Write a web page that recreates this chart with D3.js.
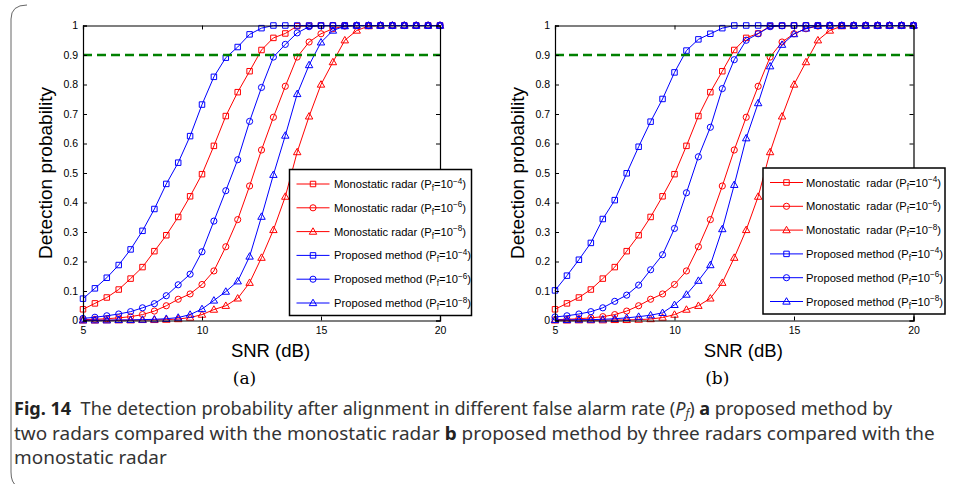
<!DOCTYPE html>
<html>
<head>
<meta charset="utf-8">
<script src="https://cdn.jsdelivr.net/npm/d3@7/dist/d3.min.js"></script>
<style>
  html, body { margin: 0; padding: 0; background: #fff; }
  svg { display: block; }
</style>
</head>
<body>
<svg id="chart" width="960" height="484"></svg>
<script>
// ---------------- DATA ----------------
const snr = [5, 5.5, 6, 6.5, 7, 7.5, 8, 8.5, 9, 9.5, 10, 10.5, 11, 11.5, 12, 12.5,
             13, 13.5, 14, 14.5, 15, 15.5, 16, 16.5, 17, 17.5, 18, 18.5, 19, 19.5, 20];

// Monostatic radar (same in both panels)
const monoPf4 = [0.038, 0.058, 0.078, 0.105, 0.142, 0.181, 0.235, 0.289, 0.351, 0.421, 0.496, 0.592, 0.693, 0.774, 0.845, 0.917,
                 0.958, 0.973, 0.998, 0.999, 1, 1, 1, 1, 1, 1, 1, 1, 1, 1, 1];
const monoPf6 = [0.003, 0.004, 0.006, 0.009, 0.013, 0.020, 0.032, 0.050, 0.072, 0.090, 0.122, 0.168, 0.250, 0.342, 0.456, 0.578,
                 0.689, 0.794, 0.893, 0.944, 0.972, 0.989, 0.998, 1, 1, 1, 1, 1, 1, 1, 1];
const monoPf8 = [0.0005, 0.0005, 0.001, 0.001, 0.001, 0.002, 0.002, 0.003, 0.005, 0.010, 0.020, 0.037, 0.050, 0.075, 0.128, 0.213,
                 0.307, 0.420, 0.571, 0.692, 0.800, 0.876, 0.950, 0.983, 0.998, 1, 1, 1, 1, 1, 1];

// Proposed method, two radars (panel a)
const propAPf4 = [0.074, 0.109, 0.145, 0.188, 0.241, 0.304, 0.378, 0.463, 0.535, 0.625, 0.732, 0.826, 0.891, 0.927, 0.970, 0.991,
                  1, 1, 1, 1, 1, 1, 1, 1, 1, 1, 1, 1, 1, 1, 1];
const propAPf6 = [0.007, 0.011, 0.016, 0.022, 0.030, 0.043, 0.057, 0.084, 0.121, 0.157, 0.233, 0.337, 0.440, 0.545, 0.675, 0.790,
                  0.893, 0.936, 0.975, 0.996, 0.999, 1, 1, 1, 1, 1, 1, 1, 1, 1, 1];
const propAPf8 = [0.001, 0.001, 0.001, 0.002, 0.002, 0.003, 0.004, 0.006, 0.010, 0.020, 0.039, 0.068, 0.098, 0.133, 0.217, 0.352,
                  0.494, 0.627, 0.768, 0.866, 0.943, 0.983, 0.998, 1, 1, 1, 1, 1, 1, 1, 1];

// Proposed method, three radars (panel b)
const propBPf4 = [0.102, 0.152, 0.206, 0.263, 0.344, 0.408, 0.499, 0.589, 0.674, 0.751, 0.841, 0.915, 0.953, 0.972, 0.991, 1,
                  1, 1, 1, 1, 1, 1, 1, 1, 1, 1, 1, 1, 1, 1, 1];
const propBPf6 = [0.012, 0.016, 0.022, 0.030, 0.043, 0.065, 0.086, 0.120, 0.172, 0.223, 0.312, 0.433, 0.555, 0.655, 0.786, 0.884,
                  0.950, 0.972, 0.996, 0.999, 1, 1, 1, 1, 1, 1, 1, 1, 1, 1, 1];
const propBPf8 = [0.002, 0.002, 0.003, 0.003, 0.004, 0.006, 0.009, 0.013, 0.018, 0.026, 0.053, 0.088, 0.135, 0.188, 0.310, 0.460,
                  0.618, 0.737, 0.862, 0.935, 0.971, 0.990, 0.999, 1, 1, 1, 1, 1, 1, 1, 1];

const threshold = 0.9;
const xTicks = [5, 10, 15, 20];
const yTicks = [0, 0.1, 0.2, 0.3, 0.4, 0.5, 0.6, 0.7, 0.8, 0.9, 1];
const yTickLabels = ["0", "0.1", "0.2", "0.3", "0.4", "0.5", "0.6", "0.7", "0.8", "0.9", "1"];
const pfExponents = ["\u22124", "\u22126", "\u22128", "\u22124", "\u22126", "\u22128"];
const xLabel = "SNR (dB)";
const yLabel = "Detection probability";

// ---------------- DRAW ----------------
const svg = d3.select("#chart");
svg.append("rect").attr("width", 960).attr("height", 484).attr("fill", "#fff");

// figure frame (left bracket)
svg.append("path")
  .attr("d", "M 27 5 Q 11 5 11 19 L 11 472 Q 11 483 17 486")
  .attr("fill", "none").attr("stroke", "#666").attr("stroke-width", 1);

const RED = "#ff0000", BLUE = "#0000ff";
const FONT = "'Liberation Sans', Arial, Helvetica, sans-serif";

const symbolSize = { square: 30, circle: 30, triangle: 24 };
const symbolType = { square: d3.symbolSquare, circle: d3.symbolCircle, triangle: d3.symbolTriangle };

function drawPanel(cfg) {
  const x = d3.scaleLinear().domain([5, 20]).range([cfg.left, cfg.right]);
  const y = d3.scaleLinear().domain([0, 1]).range([320.5, 25.5]);
  const g = svg.append("g");

  const series = [
    { name: cfg.monoName, vals: monoPf4, color: RED, shape: "square" },
    { name: cfg.monoName, vals: monoPf6, color: RED, shape: "circle" },
    { name: cfg.monoName, vals: monoPf8, color: RED, shape: "triangle" },
    { name: "Proposed method", vals: cfg.p4, color: BLUE, shape: "square" },
    { name: "Proposed method", vals: cfg.p6, color: BLUE, shape: "circle" },
    { name: "Proposed method", vals: cfg.p8, color: BLUE, shape: "triangle" }
  ];

  const line = d3.line().x((d, i) => x(snr[i])).y(d => y(d));

  series.forEach(s => {
    const sg = g.append("g");
    sg.append("path").attr("d", line(s.vals))
      .attr("fill", "none").attr("stroke", s.color).attr("stroke-width", 1);
    sg.selectAll("path.m").data(s.vals).enter().append("path")
      .attr("class", "m")
      .attr("d", d3.symbol().type(symbolType[s.shape]).size(symbolSize[s.shape]))
      .attr("transform", (d, i) => `translate(${x(snr[i])},${y(d) + (s.shape === "triangle" ? 0.5 : 0)})`)
      .attr("fill", "none").attr("stroke", s.color).attr("stroke-width", 1);
  });

  // threshold
  g.append("line")
    .attr("x1", x(5)).attr("x2", x(20))
    .attr("y1", y(threshold)).attr("y2", y(threshold))
    .attr("stroke", "#008000").attr("stroke-width", 2.4)
    .attr("stroke-dasharray", "9,5");

  // axes
  const bottom = g.append("g").attr("transform", `translate(0,${y(0)})`)
    .call(d3.axisBottom(x).tickValues(xTicks).tickSize(-4).tickPadding(6).tickFormat(d3.format("d")));
  const top = g.append("g").attr("transform", `translate(0,${y(1)})`)
    .call(d3.axisTop(x).tickValues(xTicks).tickSize(-4).tickFormat(""));
  const left = g.append("g").attr("transform", `translate(${x(5)},0)`)
    .call(d3.axisLeft(y).tickValues(yTicks).tickSize(-4).tickPadding(5)
      .tickFormat((d, i) => yTickLabels[i]));
  const right = g.append("g").attr("transform", `translate(${x(20)},0)`)
    .call(d3.axisRight(y).tickValues(yTicks).tickSize(-4).tickFormat(""));
  [bottom, top, left, right].forEach(a => {
    a.select(".domain").attr("stroke", "#000").attr("stroke-width", 1.2);
    a.selectAll(".tick line").attr("stroke", "#000").attr("stroke-width", 1);
    a.selectAll("text").attr("font-family", FONT).attr("font-size", 10.5).attr("fill", "#000");
  });

  // axis labels
  g.append("text").attr("x", (x(5) + x(20)) / 2 + 9).attr("y", 357)
    .attr("text-anchor", "middle").attr("font-family", FONT).attr("font-size", 18.5)
    .text(xLabel);
  g.append("text").attr("transform", `translate(${cfg.left - 31},${(y(0) + y(1)) / 2}) rotate(-90)`)
    .attr("text-anchor", "middle").attr("font-family", FONT).attr("font-size", 19)
    .text(yLabel);
  g.append("text").attr("x", (x(5) + x(20)) / 2 - 17).attr("y", 384)
    .attr("text-anchor", "middle").attr("font-family", "'DejaVu Serif', 'Liberation Serif', serif")
    .attr("font-size", 17).text(cfg.tag);

  // legend
  const lg = g.append("g").attr("transform", `translate(${cfg.legX},${cfg.legY})`);
  lg.append("rect").attr("x", 0).attr("y", 0).attr("width", 182).attr("height", 146)
    .attr("fill", "#fff").attr("stroke", "#000").attr("stroke-width", 1.5);
  series.forEach((s, i) => {
    const ry = 14.5 + i * 23.8;
    const row = lg.append("g").attr("transform", `translate(0,${ry})`);
    row.append("line").attr("x1", 7).attr("x2", 40).attr("y1", 0).attr("y2", 0)
      .attr("stroke", s.color).attr("stroke-width", 1);
    row.append("path").attr("d", d3.symbol().type(symbolType[s.shape]).size(symbolSize[s.shape])())
      .attr("transform", `translate(23.5,${s.shape === "triangle" ? 0.5 : 0})`)
      .attr("fill", "none").attr("stroke", s.color).attr("stroke-width", 1);
    const t = row.append("text").attr("x", cfg.legTextX).attr("y", 4)
      .attr("font-family", FONT).attr("font-size", 11.2).attr("fill", "#000")
      .style("white-space", "pre");
    t.append("tspan").text(s.name + " (P");
    t.append("tspan").attr("dy", 3).attr("font-size", 8.2).text("f");
    t.append("tspan").attr("dy", -3).text("=10");
    t.append("tspan").attr("dy", -4.5).attr("font-size", 8.2).text(pfExponents[i]);
    t.append("tspan").attr("dy", 4.5).text(")");
  });
}

drawPanel({ left: 83, right: 440, p4: propAPf4, p6: propAPf6, p8: propAPf8,
            monoName: "Monostatic radar", tag: "(a)", legX: 289.5, legY: 169.5, legTextX: 44.5 });
drawPanel({ left: 555, right: 913.5, p4: propBPf4, p6: propBPf6, p8: propBPf8,
            monoName: "Monostatic  radar", tag: "(b)", legX: 763, legY: 168, legTextX: 43 });

// ---------------- CAPTION ----------------
const CAP_FONT = "'Noto Sans', 'Open Sans', sans-serif";
const capLines = [
  { y: 415, target: 879, parts: [
      { t: "Fig. 14", w: "bold" },
      { t: "  The detection probability after alignment in different false alarm rate (" },
      { t: "P", s: "italic" }, { t: "f", s: "italic", sub: true },
      { t: ") " }, { t: "a", w: "bold" }, { t: " proposed method by" } ] },
  { y: 440, target: 921, parts: [
      { t: "two radars compared with the monostatic radar " }, { t: "b", w: "bold" },
      { t: " proposed method by three radars compared with the" } ] },
  { y: 464, target: null, parts: [ { t: "monostatic radar" } ] }
];
let lastK = 1;
capLines.forEach(L => {
  const t = svg.append("text").attr("x", 0).attr("y", 0)
    .attr("font-family", CAP_FONT).attr("font-size", 18.5).attr("fill", "#333")
    .style("white-space", "pre");
  let shifted = false;
  L.parts.forEach(p => {
    const sp = t.append("tspan").text(p.t);
    if (p.w) sp.attr("font-weight", p.w).attr("fill", "#222");
    if (p.s) sp.attr("font-style", p.s);
    if (p.sub) { sp.attr("dy", 3).attr("font-size", 12); shifted = true; }
    else if (shifted) { sp.attr("dy", -3); shifted = false; }
  });
  const k = L.target ? L.target / t.node().getComputedTextLength() : lastK;
  lastK = k;
  t.attr("transform", `translate(14,${L.y}) scale(${k},1)`);
});
</script>
</body>
</html>
